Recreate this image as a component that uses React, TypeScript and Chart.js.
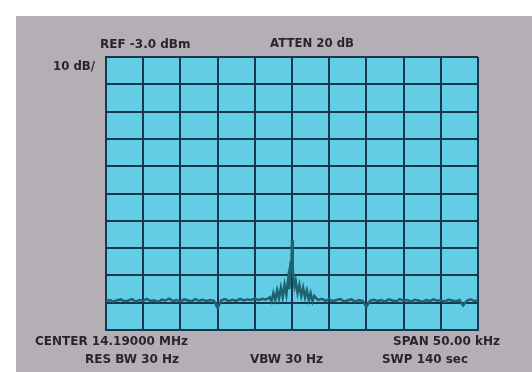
import React, { useEffect, useRef } from "react";
import { Chart, registerables } from "chart.js";

Chart.register(...registerables);

// Frequency offset from centre (kHz) and trace level (dBm)
const freqKHz = [
  -25, -24.5, -24, -23.5, -23, -22.5, -22, -21.5, -21, -20.5,
  -20, -19.5, -19, -18.5, -18, -17.5, -17, -16.5, -16, -15.5,
  -15, -14.5, -14, -13.5, -13, -12.5, -12, -11.5, -11, -10.5,
  -10, -9.5, -9, -8.5, -8, -7.5, -7, -6.5, -6, -5.5,
  -5, -4.5, -4, -3.5, -3, -2.75, -2.5, -2.25, -2, -1.75,
  -1.5, -1.25, -1, -0.75, -0.5, -0.35, -0.2, -0.1, 0, 0.1,
  0.2, 0.35, 0.5, 0.75, 1, 1.25, 1.5, 1.75, 2, 2.25,
  2.5, 2.75, 3, 3.5, 4, 4.5, 5, 5.5, 6, 6.5,
  7, 7.5, 8, 8.5, 9, 9.5, 10, 10.5, 11, 11.5,
  12, 12.5, 13, 13.5, 14, 14.5, 15, 15.5, 16, 16.5,
  17, 17.5, 18, 18.5, 19, 19.5, 20, 20.5, 21, 21.5,
  22, 22.5, 23, 23.5, 24, 24.5, 25,
];
const levelDbm = [
  -92.4, -92.0, -92.6, -92.1, -91.8, -92.5, -92.2, -91.7, -92.6, -92.0,
  -92.3, -91.6, -92.4, -92.1, -92.7, -91.9, -92.2, -91.5, -92.4, -92.0,
  -92.6, -91.8, -92.1, -92.5, -91.7, -92.3, -91.9, -92.4, -92.0, -92.2,
  -95.0, -92.1, -91.7, -92.4, -91.9, -92.3, -91.6, -92.2, -91.8, -92.0,
  -91.5, -92.1, -91.6, -91.9, -91.0, -92.5, -89.5, -92.0, -88.5, -91.5,
  -87.5, -91.0, -86.5, -90.0, -84.0, -88.0, -78.0, -82.0, -70.0, -80.0,
  -84.0, -87.0, -85.0, -89.5, -86.5, -90.5, -87.5, -91.0, -88.5, -92.0,
  -89.5, -92.5, -90.5, -92.0, -91.6, -92.3, -91.8, -92.4, -92.0, -91.7,
  -92.5, -92.1, -91.8, -92.6, -92.0, -92.3, -94.5, -92.2, -91.9, -92.4,
  -92.0, -92.6, -91.8, -92.2, -92.5, -91.7, -92.3, -92.0, -92.6, -91.9,
  -92.2, -92.7, -92.0, -92.4, -91.8, -92.3, -92.1, -92.6, -91.9, -92.2,
  -92.5, -92.0, -94.0, -92.3, -91.8, -92.4, -92.1,
];

// Axis settings: REF -3.0 dBm, 10 dB/div, 10 divisions; span 50 kHz
const yTicks = { min: -103, max: -3, step: 10 };
const xTicks = { min: -25, max: 25, step: 5 };

const topLabels = ["REF -3.0 dBm", "ATTEN 20 dB", "10 dB/"];
const bottomLabels = ["CENTER 14.19000 MHz", "SPAN 50.00 kHz", "RES BW 30 Hz", "VBW 30 Hz", "SWP 140 sec"];

const GRID = "#183650";
const CYAN = "#62cde5";
const PANEL = "#b3afb4";
const TEXT = "#28262c";

const backdrop = {
  id: "backdrop",
  beforeDraw(chart: any) {
    const { ctx, chartArea, width, height } = chart;
    ctx.save();
    ctx.fillStyle = "#ffffff";
    ctx.fillRect(0, 0, width, height);
    ctx.fillStyle = PANEL;
    ctx.fillRect(16, 16, width - 16, height - 16);
    ctx.fillStyle = CYAN;
    ctx.fillRect(chartArea.left, chartArea.top, chartArea.right - chartArea.left, chartArea.bottom - chartArea.top);
    ctx.restore();
  },
  afterDraw(chart: any) {
    const { ctx, chartArea } = chart;
    ctx.save();
    ctx.fillStyle = TEXT;
    ctx.font = "bold 12px 'DejaVu Sans', sans-serif";
    ctx.textBaseline = "middle";
    ctx.textAlign = "left";
    const L = chartArea.left;
    const B = chartArea.bottom;
    const T = chartArea.top;
    ctx.fillText(topLabels[0], L - 6, T - 12, 98);
    ctx.fillText(topLabels[1], L + 164, T - 13, 84);
    ctx.fillText(topLabels[2], L - 53, T + 10, 42);
    ctx.fillText(bottomLabels[0], L - 71, B + 12, 162);
    ctx.textAlign = "right";
    ctx.fillText(bottomLabels[1], chartArea.right + 22, B + 12, 108);
    ctx.textAlign = "left";
    ctx.fillText(bottomLabels[2], L - 21, B + 30, 97);
    ctx.fillText(bottomLabels[3], L + 144, B + 30, 76);
    ctx.fillText(bottomLabels[4], L + 276, B + 30, 86);
    ctx.restore();
  },
};

export default function App() {
  const ref = useRef<HTMLCanvasElement | null>(null);
  useEffect(() => {
    if (!ref.current) return;
    const chart = new Chart(ref.current, {
      type: "line",
      data: {
        datasets: [
          {
            data: freqKHz.map((f, i) => ({ x: f, y: levelDbm[i] })),
            borderColor: "#1d6470",
            borderWidth: 2.5,
            pointRadius: 0,
            tension: 0,
          },
        ],
      },
      options: {
        animation: false,
        responsive: false,
        maintainAspectRatio: false,
        layout: { padding: { left: 106, right: 54, top: 57, bottom: 42 } },
        plugins: { legend: { display: false }, tooltip: { enabled: false } },
        scales: {
          x: {
            type: "linear",
            min: xTicks.min,
            max: xTicks.max,
            ticks: { display: false, stepSize: xTicks.step },
            grid: { color: GRID, lineWidth: 2, drawTicks: false },
            border: { display: true, color: GRID, width: 2 },
          },
          y: {
            type: "linear",
            min: yTicks.min,
            max: yTicks.max,
            ticks: { display: false, stepSize: yTicks.step },
            grid: { color: GRID, lineWidth: 2, drawTicks: false },
            border: { display: true, color: GRID, width: 2 },
          },
        },
      },
      plugins: [backdrop],
    });
    return () => chart.destroy();
  }, []);
  return (
    <div style={{ position: "fixed", left: 0, top: 0, width: 532, height: 372 }}>
      <canvas ref={ref} width={532} height={372} style={{ width: 532, height: 372, display: "block" }} />
    </div>
  );
}
